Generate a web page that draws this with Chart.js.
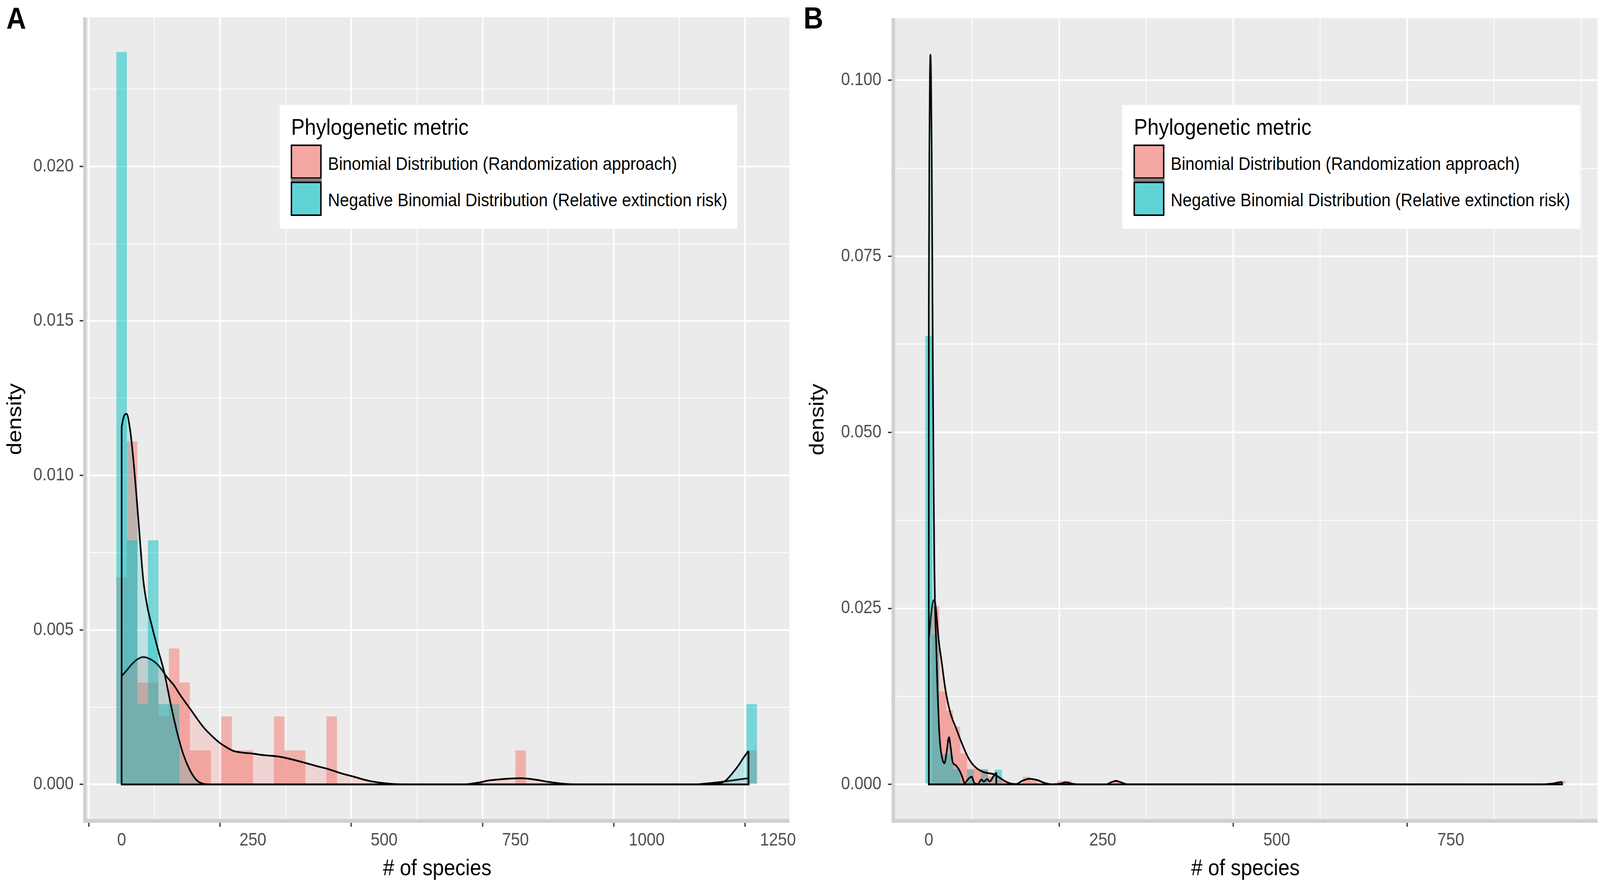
<!DOCTYPE html>
<html>
<head>
<meta charset="utf-8">
<script src="https://cdn.jsdelivr.net/npm/chart.js@4.4.1/dist/chart.umd.min.js"></script>
<style>
  html, body { margin: 0; padding: 0; background: #fff; overflow: hidden; }
  #wrap { position: relative; width: 4562px; height: 2261px; font-family: 'Liberation Sans', Arial, sans-serif; transform-origin: 0 0; }
  canvas { position: absolute; top: 0; }
  #chartA { left: 0; }
  #chartB { left: 2281px; }
  .tag { position: absolute; font-size: 78px; line-height: 78px; font-weight: bold; color: #000; }
  .legend { position: absolute; top: 269px; width: 1305px; height: 317px; background: #fff; }
  .legend .ttl { position: absolute; left: 33px; top: 27px; font-size: 58px; line-height: 58px; white-space: nowrap; }
  .legend .key { position: absolute; left: 32px; width: 88px; height: 88px; box-sizing: border-box; border: 4px solid #000; }
  .legend .gap { position: absolute; left: 32px; top: 188px; width: 88px; height: 8px; background: #7f7f7f; }
  .legend .lab { position: absolute; left: 138px; font-size: 47px; line-height: 47px; white-space: nowrap; }
</style>
</head>
<body>
<div id="wrap">
  <canvas id="chartA" width="2281" height="2261"></canvas>
  <canvas id="chartB" width="2281" height="2261"></canvas>

  <div class="tag" style="left:18px; top:8px;">A</div>
  <div class="tag" style="left:2291px; top:7px;">B</div>

  <div class="legend" style="left:797px;">
    <div class="ttl">Phylogenetic metric</div>
    <div class="key" style="top:101px; background:#F5A7A2;"></div>
    <div class="gap"></div>
    <div class="key" style="top:196px; background:#5FD4D7;"></div>
    <div class="lab" style="top:126px;">Binomial Distribution (Randomization approach)</div>
    <div class="lab" style="top:219px;">Negative Binomial Distribution (Relative extinction risk)</div>
  </div>
  <div class="legend" style="left:3200px;">
    <div class="ttl">Phylogenetic metric</div>
    <div class="key" style="top:101px; background:#F5A7A2;"></div>
    <div class="gap"></div>
    <div class="key" style="top:196px; background:#5FD4D7;"></div>
    <div class="lab" style="top:126px;">Binomial Distribution (Randomization approach)</div>
    <div class="lab" style="top:219px;">Negative Binomial Distribution (Relative extinction risk)</div>
  </div>
</div>

<script>
// ---- Panel A: histogram bins (centre of 20-wide bins) and densities ----
const pinkBinsA = [0, 20, 40, 60, 80, 100, 120, 140, 160, 200, 220, 240, 300, 320, 340, 400, 760, 1200];
const pinkHistA = [0.0067, 0.0111, 0.0033, 0.0033, 0.0022, 0.0044, 0.0033, 0.0011, 0.0011, 0.0022, 0.0011, 0.0011, 0.0022, 0.0011, 0.0011, 0.0022, 0.0011, 0.0011];
const tealBinsA = [0, 20, 40, 60, 80, 100, 1200];
const tealHistA = [0.0237, 0.0079, 0.0026, 0.0079, 0.0026, 0.0026, 0.0026];

const pinkDensXA = [0, 10, 20, 30, 41, 55, 69, 87, 100, 111, 132, 155, 170, 185, 200, 212, 230, 248, 270, 300, 320, 349, 370, 393, 420, 440, 470, 495, 520, 545, 650, 680, 700, 730, 760, 790, 814, 850, 870, 1090, 1121, 1151, 1175, 1194];
const pinkDensYA = [0.0035, 0.0037, 0.0039, 0.00405, 0.00412, 0.00405, 0.00387, 0.00346, 0.0032, 0.00291, 0.00241, 0.00187, 0.0016, 0.00137, 0.0012, 0.00109, 0.00103, 0.001, 0.00095, 0.0009, 0.00083, 0.0007, 0.0006, 0.0005, 0.00035, 0.00026, 0.00012, 0.00005, 0.00001, 0, 0, 0.00006, 0.00013, 0.00018, 0.0002, 0.00015, 0.00008, 0.00001, 0, 0, 0.00004, 0.0001, 0.00016, 0.0002];
const tealDensXA = [0, 4, 9.5, 16, 22, 28, 34, 41, 49, 58, 69, 81, 93, 105, 117, 129, 141, 155, 170, 1100, 1130, 1150, 1165, 1175, 1185, 1194];
const tealDensYA = [0.01158, 0.0119, 0.01199, 0.01149, 0.01057, 0.00939, 0.00811, 0.00665, 0.00575, 0.0051, 0.00438, 0.00364, 0.00264, 0.00173, 0.001, 0.0005, 0.00017, 0.00002, 0, 0, 0.00002, 0.00012, 0.0004, 0.00062, 0.00088, 0.00108];

// ---- Panel B: histogram bins (centre of 10-wide bins) and densities ----
const pinkBinsB = [10, 20, 30, 40, 50, 60, 70, 80, 90, 100, 110, 140, 150, 190, 200, 270, 910];
const pinkHistB = [0.0253, 0.0132, 0.0105, 0.0082, 0.0044, 0.0022, 0.0022, 0.0022, 0.0011, 0.0011, 0.0005, 0.0011, 0.0005, 0.0005, 0.0005, 0.0005, 0.0005];
const tealBinsB = [0, 10, 20, 30, 40, 60, 80, 100];
const tealHistB = [0.0637, 0.0213, 0.0043, 0.0043, 0.0021, 0.0021, 0.0021, 0.0021];

const pinkDensXB = [0, 2, 4, 6, 8, 10, 13.7, 18.9, 24, 30.9, 39.5, 48.1, 56.7, 65.3, 77.3, 94.5, 104.8, 115, 125.4, 134, 144.3, 156.4, 166.7, 177, 189, 196.7, 206, 215, 255, 262, 269, 276, 285, 880, 895, 905, 910];
const pinkDensYB = [0.0205, 0.0228, 0.0247, 0.0259, 0.0262, 0.0252, 0.021, 0.0171, 0.0134, 0.0102, 0.0079, 0.0057, 0.0038, 0.0026, 0.0018, 0.0014, 0.00075, 0.0002, 0.00005, 0.0005, 0.0008, 0.0006, 0.0002, 0.00002, 0.0001, 0.0003, 0.0001, 0.00001, 0.00001, 0.0003, 0.0005, 0.0003, 0.00002, 0.00001, 0.0001, 0.00028, 0.00035];
const tealDensXB = [0, 0.8, 1.6, 2.4, 3.2, 4, 5, 6, 7, 8, 9, 10.5, 12.5, 14.5, 16.5, 19, 22.5, 25.5, 29, 31.5, 34, 39, 44, 48, 51.5, 56.5, 61.5, 65.5, 70.5, 75.5, 79, 84, 87.5, 92.5, 97];
const tealDensYB = [0.068, 0.09, 0.1005, 0.1036, 0.1005, 0.092, 0.075, 0.057, 0.042, 0.031, 0.025, 0.0205, 0.0135, 0.0085, 0.0055, 0.0038, 0.003, 0.0045, 0.0067, 0.0052, 0.0033, 0.0027, 0.002, 0.0011, 0.0002, 0.00075, 0.0011, 0.0002, 0.00005, 0.0007, 0.0004, 0.00075, 0.0004, 0.0011, 0.0017];

// ---- ticks ----
const xTicksA = [0, 125, 250, 375, 500, 625, 750, 875, 1000, 1125, 1250];
const xMajorA = [0, 250, 500, 750, 1000, 1250];
const xLabelsA = ['0', '250', '500', '750', '1000', '1250'];
const yTicksA = [0, 0.0025, 0.005, 0.0075, 0.01, 0.0125, 0.015, 0.0175, 0.02, 0.0225];
const yMajorA = [0, 0.005, 0.01, 0.015, 0.02];
const yLabelsA = ['0.000', '0.005', '0.010', '0.015', '0.020'];

const xTicksB = [0, 125, 250, 375, 500, 625, 750, 875];
const xMajorB = [0, 250, 500, 750];
const xLabelsB = ['0', '250', '500', '750'];
const yTicksB = [0, 0.0125, 0.025, 0.0375, 0.05, 0.0625, 0.075, 0.0875, 0.1];
const yMajorB = [0, 0.025, 0.05, 0.075, 0.1];
const yLabelsB = ['0.000', '0.025', '0.050', '0.075', '0.100'];

const PINK = '248, 118, 109';
const TEAL = '0, 191, 196';
const FONT = "'Liberation Sans', Arial, sans-serif";
Chart.defaults.font.family = FONT;

// the layout is drawn at 4562x2261; stretch it onto the viewport we actually get
const wrap = document.getElementById('wrap');
const sx = document.documentElement.clientWidth / 4562;
const sy = document.documentElement.clientHeight / 2261;
wrap.style.transform = `scale(${sx}, ${sy})`;

function majorIndex(v, majors) {
    return majors.findIndex(m => Math.abs(m - v) < 1e-9);
}

function histDataset(label, bins, heights, rgb, order) {
    return {
        type: 'bar',
        label: label,
        data: bins.map((x, i) => ({ x: x, y: heights[i] })),
        backgroundColor: `rgba(${rgb}, 0.5)`,
        borderWidth: 0,
        grouped: false,
        barPercentage: 1,
        categoryPercentage: 1,
        inflateAmount: 0,
        order: order
    };
}

function densityDataset(label, xs, ys, rgb, order) {
    return {
        type: 'line',
        label: label,
        data: xs.map((x, i) => ({ x: x, y: ys[i] })),
        borderColor: '#000000',
        borderWidth: 4.5,
        borderJoinStyle: 'round',
        backgroundColor: `rgba(${rgb}, 0.2)`,
        fill: 'origin',
        pointRadius: 0,
        cubicInterpolationMode: 'monotone',
        order: order
    };
}

// closing edges of the density polygon: vertical ends + baseline
function outlineDataset(xs, ys, order) {
    const n = xs.length - 1;
    return {
        type: 'line',
        data: [{ x: xs[0], y: ys[0] }, { x: xs[0], y: 0 }, { x: xs[n], y: 0 }, { x: xs[n], y: ys[n] }],
        borderColor: '#000000',
        borderWidth: 4.5,
        fill: false,
        pointRadius: 0,
        tension: 0,
        order: order
    };
}

// grey panel background and the light grey axis lines
const panelDecor = {
    id: 'panelDecor',
    beforeDraw(chart) {
        const { ctx, chartArea: a } = chart;
        ctx.save();
        ctx.fillStyle = '#EBEBEB';
        ctx.fillRect(a.left, a.top, a.right - a.left, a.bottom - a.top);
        ctx.restore();
    },
    afterDraw(chart) {
        const { ctx, chartArea: a } = chart;
        ctx.save();
        ctx.strokeStyle = '#D0D0D0';
        ctx.lineWidth = 10;
        ctx.beginPath();
        ctx.moveTo(a.left, a.top);
        ctx.lineTo(a.left, a.bottom + 5);
        ctx.moveTo(a.left - 5, a.bottom);
        ctx.lineTo(a.right, a.bottom);
        ctx.stroke();
        ctx.restore();
    }
};

function axisOptions(p) {
    const gridFor = (majors) => ({
        color: '#FFFFFF',
        lineWidth: c => (c.tick && majorIndex(c.tick.value, majors) >= 0) ? 4.5 : 2.2,
        tickColor: c => (c.tick && majorIndex(c.tick.value, majors) >= 0) ? '#333333' : 'rgba(0,0,0,0)',
        tickLength: 15,
        tickWidth: 3.5,
        drawTicks: true
    });
    return {
        x: {
            type: 'linear',
            min: p.xMin,
            max: p.xMax,
            offset: false,
            afterBuildTicks: s => { s.ticks = p.xTicks.map(v => ({ value: v })); },
            afterFit: s => { s.height = 159; },
            grid: gridFor(p.xMajor),
            border: { display: false },
            ticks: {
                autoSkip: false,
                maxRotation: 0,
                padding: 8,
                color: '#4D4D4D',
                font: { size: 46, family: FONT },
                callback: v => { const i = majorIndex(v, p.xMajor); return i >= 0 ? p.xLabels[i] : ''; }
            },
            title: {
                display: true,
                text: '# of species',
                color: '#000000',
                font: { size: 58, family: FONT },
                padding: { top: 0, bottom: 1 }
            }
        },
        y: {
            type: 'linear',
            min: p.yMin,
            max: p.yMax,
            afterBuildTicks: s => { s.ticks = p.yTicks.map(v => ({ value: v })); },
            afterFit: s => { s.width = p.yWidth; },
            grid: gridFor(p.yMajor),
            border: { display: false },
            ticks: {
                autoSkip: false,
                padding: p.yTickPad,
                color: '#4D4D4D',
                font: { size: 46, family: FONT },
                callback: v => { const i = majorIndex(v, p.yMajor); return i >= 0 ? p.yLabels[i] : ''; }
            },
            title: {
                display: true,
                text: 'density',
                color: '#000000',
                font: { size: 58, family: FONT },
                padding: { top: p.yTitlePad, bottom: 0 }
            }
        }
    };
}

function commonOptions(p) {
    return {
        responsive: false,
        maintainAspectRatio: false,
        devicePixelRatio: 1,
        animation: false,
        events: [],
        layout: { padding: { left: 0, right: p.rightPad, top: 10, bottom: 0 } },
        plugins: { legend: { display: false }, tooltip: { enabled: false } },
        scales: axisOptions(p)
    };
}

// Panel A
const ctxA = document.getElementById('chartA').getContext('2d');
new Chart(ctxA, {
    type: 'bar',
    data: {
        datasets: [
            histDataset('Binomial Distribution (Randomization approach)', pinkBinsA, pinkHistA, PINK, 6),
            histDataset('Negative Binomial Distribution (Relative extinction risk)', tealBinsA, tealHistA, TEAL, 5),
            densityDataset('Binomial density', pinkDensXA, pinkDensYA, PINK, 4),
            outlineDataset(pinkDensXA, pinkDensYA, 3),
            densityDataset('Negative Binomial density', tealDensXA, tealDensYA, TEAL, 2),
            outlineDataset(tealDensXA, tealDensYA, 1)
        ]
    },
    options: commonOptions({
        xMin: -70, xMax: 1272, xTicks: xTicksA, xMajor: xMajorA, xLabels: xLabelsA,
        yMin: -0.00118, yMax: 0.02482, yTicks: yTicksA, yMajor: yMajorA, yLabels: yLabelsA,
        yWidth: 242, rightPad: 30, yTickPad: 17, yTitlePad: 9
    }),
    plugins: [panelDecor]
});

// Panel B
const ctxB = document.getElementById('chartB').getContext('2d');
new Chart(ctxB, {
    type: 'bar',
    data: {
        datasets: [
            histDataset('Binomial Distribution (Randomization approach)', pinkBinsB, pinkHistB, PINK, 6),
            histDataset('Negative Binomial Distribution (Relative extinction risk)', tealBinsB, tealHistB, TEAL, 5),
            densityDataset('Binomial density', pinkDensXB, pinkDensYB, PINK, 4),
            outlineDataset(pinkDensXB, pinkDensYB, 3),
            densityDataset('Negative Binomial density', tealDensXB, tealDensYB, TEAL, 2),
            outlineDataset(tealDensXB, tealDensYB, 1)
        ]
    },
    options: commonOptions({
        xMin: -51, xMax: 961, xTicks: xTicksB, xMajor: xMajorB, xLabels: xLabelsB,
        yMin: -0.00518, yMax: 0.1088, yTicks: yTicksB, yMajor: yMajorB, yLabels: yLabelsB,
        yWidth: 266, rightPad: 7, yTickPad: 19, yTitlePad: 16
    }),
    plugins: [panelDecor]
});
</script>
</body>
</html>
